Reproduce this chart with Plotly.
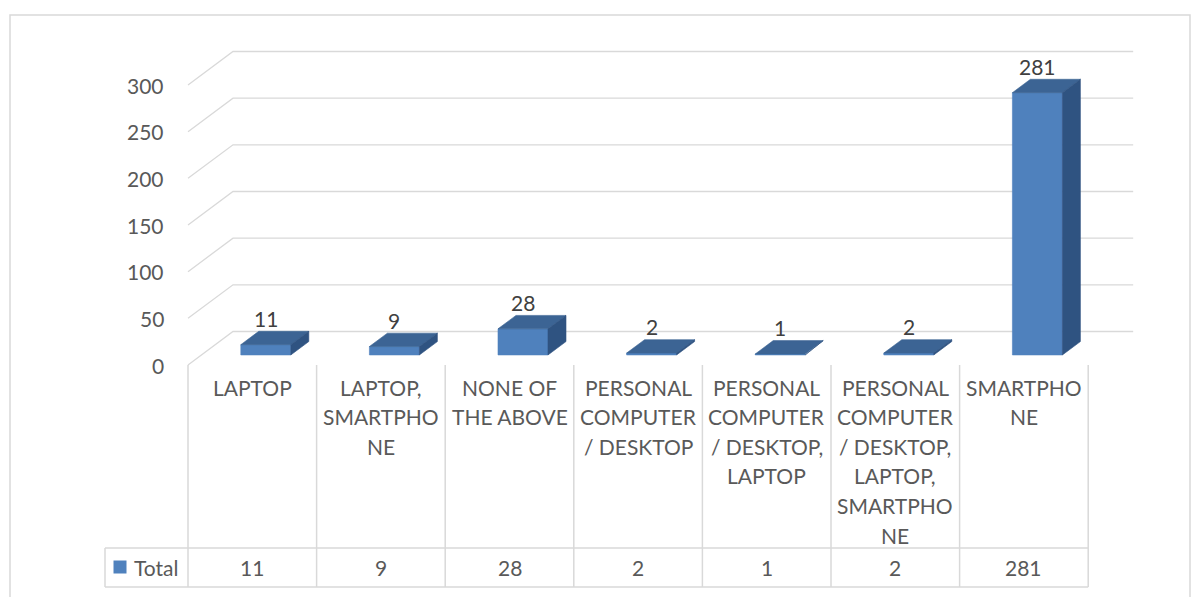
import plotly.graph_objects as go

# ---------------- data ----------------
categories = [
    "LAPTOP",
    "LAPTOP, SMARTPHONE",
    "NONE OF THE ABOVE",
    "PERSONAL COMPUTER / DESKTOP",
    "PERSONAL COMPUTER / DESKTOP, LAPTOP",
    "PERSONAL COMPUTER / DESKTOP, LAPTOP, SMARTPHONE",
    "SMARTPHONE",
]
category_label_lines = [
    ["LAPTOP"],
    ["LAPTOP,", "SMARTPHO", "NE"],
    ["NONE OF", "THE ABOVE"],
    ["PERSONAL", "COMPUTER", "/ DESKTOP"],
    ["PERSONAL", "COMPUTER", "/ DESKTOP,", "LAPTOP"],
    ["PERSONAL", "COMPUTER", "/ DESKTOP,", "LAPTOP,", "SMARTPHO", "NE"],
    ["SMARTPHO", "NE"],
]
values = [11, 9, 28, 2, 1, 2, 281]
series_name = "Total"
y_ticks = [0, 50, 100, 150, 200, 250, 300]

# ---------------- geometry / style ----------------
W, H = 1200, 597
X0, Y0 = 188.0, 365.0          # pixel of category-axis start / value 0 (front plane)
PX_X, PX_Y = 128.6, 0.93333     # pixels per category, pixels per value unit
FONT = "Lato"
FS = 21
AXIS_COL = "#595959"
LABEL_COL = "#404040"
GRID_COL = "#d9d9d9"
FRONT_COL = "#4F81BD"
TOP_COL = "#3C6494"
SIDE_COL = "#2F5381"


def ux(px):
    return (px - X0) / PX_X


def uy(py):
    return (Y0 - py) / PX_Y


def dx(px):
    return px / PX_X


def dy(px):
    return px / PX_Y


DEPTH_X, DEPTH_Y = dx(45), dy(33.5)
F0, F1 = 0.3, 0.7
BAR_W = dx(50)
n = len(categories)

fig = go.Figure()

# back wall + side wall gridlines
gx, gy = [], []
for t in y_ticks:
    gx += [0, DEPTH_X, n + DEPTH_X, None]
    gy += [t, t + DEPTH_Y, t + DEPTH_Y, None]
fig.add_trace(go.Scatter(x=gx, y=gy, mode="lines",
                         line=dict(color=GRID_COL, width=1.3),
                         hoverinfo="skip"))

# pseudo-3D bars
ddx, ddy = (F1 - F0) * DEPTH_X, (F1 - F0) * DEPTH_Y
for i, (cat, v) in enumerate(zip(categories, values)):
    xl = i + 0.5 + F0 * DEPTH_X - BAR_W / 2
    xr = xl + BAR_W
    yb = F0 * DEPTH_Y
    yt = yb + v
    faces = [
        ([xl, xr, xr, xl, xl], [yb, yb, yt, yt, yb], FRONT_COL),
        ([xl, xr, xr + ddx, xl + ddx, xl], [yt, yt, yt + ddy, yt + ddy, yt], TOP_COL),
        ([xr, xr + ddx, xr + ddx, xr, xr], [yb, yb + ddy, yt + ddy, yt, yb], SIDE_COL),
    ]
    for fx, fy, col in faces:
        fig.add_trace(go.Scatter(x=fx, y=fy, mode="lines", fill="toself",
                                 fillcolor=col, line=dict(color=col, width=0.6),
                                 name=cat, hoverinfo="skip"))
    # data label
    fig.add_annotation(x=i + 0.5 + F0 * DEPTH_X, y=F1 * DEPTH_Y + v + dy(13),
                       text=str(v), showarrow=False, yanchor="middle",
                       font=dict(family=FONT, size=FS, color=LABEL_COL))

# y tick labels
for t in y_ticks:
    fig.add_annotation(x=0, y=t, text=str(t), showarrow=False,
                       xanchor="right", yanchor="middle", xshift=-22,
                       font=dict(family=FONT, size=FS, color=AXIS_COL))

# data table: category labels
for i, lines in enumerate(category_label_lines):
    for k, line in enumerate(lines):
        fig.add_annotation(x=i + 0.5, y=uy(387 + 29.6 * k), text=line,
                           showarrow=False, yanchor="middle",
                           font=dict(family=FONT, size=FS, color=AXIS_COL))

# data table: total row
row_y = uy(567)
for i, v in enumerate(values):
    fig.add_annotation(x=i + 0.5, y=row_y, text=str(v), showarrow=False,
                       yanchor="middle",
                       font=dict(family=FONT, size=FS, color=AXIS_COL))
fig.add_annotation(x=ux(132), y=row_y, text=series_name, showarrow=False,
                   xanchor="left", yanchor="middle",
                   font=dict(family=FONT, size=FS, color=AXIS_COL))
fig.add_trace(go.Scatter(x=[ux(120)], y=[row_y], mode="markers",
                         marker=dict(symbol="square", size=13, color=FRONT_COL),
                         hoverinfo="skip"))

# table lines
line_style = dict(color=GRID_COL, width=1.5)
for k in range(n + 1):
    fig.add_shape(type="line", x0=k, x1=k, y0=0, y1=uy(587), line=line_style)
for py in (548, 587):
    fig.add_shape(type="line", x0=ux(105), x1=n, y0=uy(py), y1=uy(py), line=line_style)
fig.add_shape(type="line", x0=ux(105), x1=ux(105), y0=uy(548), y1=uy(587), line=line_style)

# chart border
fig.add_shape(type="rect", x0=ux(10), x1=ux(1190), y0=uy(15), y1=uy(610),
              line=dict(color=GRID_COL, width=1.5))

fig.update_layout(
    width=W, height=H,
    margin=dict(l=0, r=0, t=0, b=0, pad=0),
    paper_bgcolor="white", plot_bgcolor="white",
    showlegend=False,
    xaxis=dict(visible=False, range=[ux(0), ux(W)], fixedrange=True),
    yaxis=dict(visible=False, range=[uy(H), uy(0)], fixedrange=True),
)

fig.write_html("out.html", config={"displayModeBar": False},
               post_script="document.body.style.margin='0';document.body.style.overflow='hidden';")
